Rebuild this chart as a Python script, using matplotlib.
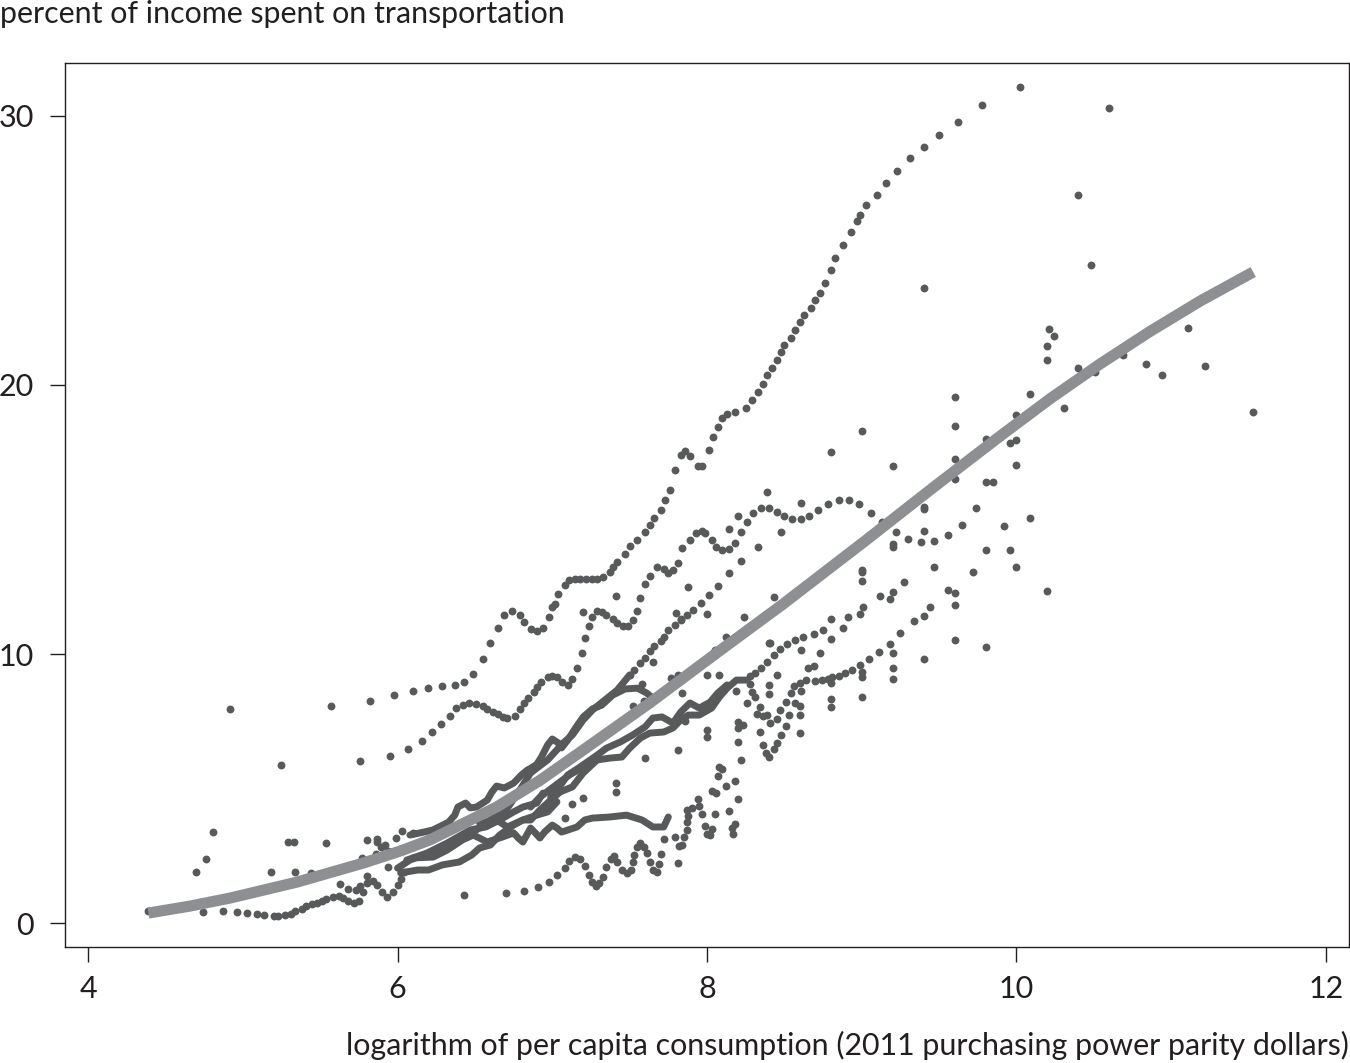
import matplotlib
matplotlib.use('Agg')
import matplotlib.pyplot as plt

# countries: dense ones are drawn joined up
top_x = [5.57, 5.82, 5.98, 6.10, 6.20, 6.29, 6.37, 6.43, 6.49, 6.55, 6.60, 6.65, 6.69, 6.74, 6.79, 6.82, 6.86, 6.90, 6.94, 6.98, 7.00, 7.02, 7.04, 7.08, 7.11, 7.15, 7.18, 7.22, 7.26, 7.29, 7.33, 7.37, 7.39, 7.42, 7.47, 7.50, 7.55, 7.60, 7.63, 7.66, 7.70, 7.73, 7.76, 7.79, 7.83, 7.86, 7.89, 7.94, 7.97, 8.01, 8.04, 8.07, 8.10, 8.13, 8.18, 8.25, 8.29, 8.33, 8.36, 8.39, 8.42, 8.45, 8.48, 8.50, 8.54, 8.57, 8.60, 8.63, 8.67, 8.70, 8.73, 8.76, 8.80, 8.83, 8.88, 8.93, 8.97, 8.99, 9.03, 9.10, 9.16, 9.23, 9.31, 9.40, 9.50, 9.62, 9.78, 10.02]
top_y = [8.07, 8.25, 8.48, 8.62, 8.74, 8.81, 8.85, 8.96, 9.26, 9.81, 10.41, 10.97, 11.45, 11.60, 11.45, 11.19, 10.93, 10.86, 10.97, 11.38, 11.75, 11.86, 12.23, 12.57, 12.75, 12.79, 12.79, 12.79, 12.79, 12.79, 12.86, 13.05, 13.23, 13.42, 13.72, 14.01, 14.24, 14.54, 14.80, 15.06, 15.35, 15.72, 16.10, 16.84, 17.40, 17.55, 17.36, 16.99, 16.99, 17.58, 18.07, 18.44, 18.77, 18.92, 19.00, 19.14, 19.44, 19.74, 20.04, 20.37, 20.63, 20.93, 21.23, 21.49, 21.75, 22.04, 22.34, 22.60, 22.86, 23.16, 23.42, 23.79, 24.27, 24.72, 25.20, 25.69, 26.10, 26.32, 26.69, 27.06, 27.51, 27.96, 28.44, 28.85, 29.29, 29.78, 30.41, 31.08]

second_x = [5.76, 5.95, 6.07, 6.16, 6.22, 6.28, 6.34, 6.38, 6.42, 6.46, 6.51, 6.55, 6.58, 6.62, 6.65, 6.68, 6.71, 6.76, 6.79, 6.82, 6.84, 6.88, 6.90, 6.93, 6.97, 7.00, 7.03, 7.06, 7.10, 7.13, 7.16, 7.19, 7.21, 7.24, 7.26, 7.29, 7.32, 7.35, 7.39, 7.42, 7.46, 7.49, 7.52, 7.55, 7.57, 7.60, 7.63, 7.68, 7.72, 7.75, 7.78, 7.81, 7.84, 7.89, 7.93, 7.97, 7.99, 8.03, 8.06, 8.10, 8.14, 8.18, 8.22, 8.26, 8.30, 8.35, 8.40, 8.45, 8.50, 8.55, 8.61, 8.66, 8.72, 8.78, 8.85, 8.92, 8.98, 9.06, 9.13, 9.22]
second_y = [6.02, 6.21, 6.47, 6.77, 7.10, 7.40, 7.70, 7.99, 8.10, 8.18, 8.14, 8.07, 7.96, 7.84, 7.77, 7.66, 7.62, 7.70, 7.96, 8.18, 8.36, 8.59, 8.77, 8.96, 9.14, 9.18, 9.14, 8.96, 8.85, 9.07, 9.48, 10.04, 10.59, 11.04, 11.38, 11.60, 11.56, 11.45, 11.30, 11.15, 11.04, 11.04, 11.26, 11.60, 12.08, 12.60, 12.90, 13.23, 13.16, 13.01, 13.12, 13.38, 13.94, 14.24, 14.50, 14.57, 14.50, 14.24, 13.98, 13.87, 13.90, 14.13, 14.54, 14.91, 15.24, 15.43, 15.43, 15.28, 15.13, 15.02, 15.02, 15.13, 15.35, 15.58, 15.72, 15.72, 15.58, 15.24, 14.91, 14.54]

third_x = [7.50, 7.53, 7.57, 7.60, 7.63, 7.66, 7.70, 7.72, 7.75, 7.79, 7.83, 7.87, 7.91, 7.96, 8.01, 8.07, 8.14, 8.22, 8.33, 8.48]
third_y = [9.22, 9.41, 9.67, 9.85, 10.11, 10.30, 10.48, 10.63, 10.89, 11.08, 11.30, 11.45, 11.64, 11.90, 12.19, 12.53, 13.01, 13.46, 13.98, 14.54]

low_x = [6.43, 6.70, 6.82, 6.91, 6.98, 7.03, 7.08, 7.11, 7.15, 7.18, 7.21, 7.24, 7.26, 7.28, 7.30, 7.33, 7.35, 7.38, 7.40, 7.42, 7.45, 7.48, 7.51, 7.52, 7.53, 7.55, 7.57, 7.59, 7.61, 7.63, 7.65, 7.68, 7.69, 7.70, 7.72, 7.79, 7.82, 7.81, 7.84, 7.85, 7.87, 7.87, 7.88, 7.87, 7.90, 7.94, 7.95, 7.97, 7.99, 8.00, 8.03, 8.02, 8.05, 8.03, 8.06, 8.07, 8.10, 8.12, 8.18, 8.20, 8.14, 8.18, 8.16, 8.17, 8.08, 8.22]
low_y = [1.04, 1.12, 1.19, 1.34, 1.52, 1.78, 2.04, 2.30, 2.45, 2.38, 2.12, 1.78, 1.52, 1.38, 1.49, 1.71, 2.08, 2.38, 2.49, 2.27, 1.97, 1.86, 1.97, 2.27, 2.53, 2.82, 2.97, 2.82, 2.60, 2.27, 1.97, 1.90, 2.19, 2.56, 3.12, 3.20, 2.86, 2.23, 2.90, 3.20, 3.46, 3.75, 3.98, 4.20, 4.27, 4.61, 4.35, 4.05, 3.61, 3.31, 3.49, 3.27, 4.05, 4.91, 4.83, 5.46, 5.72, 5.09, 5.28, 4.61, 4.16, 3.68, 3.53, 3.31, 5.80, 6.06]

bottom_x = [4.39, 4.74, 4.87, 4.96, 5.03, 5.09, 5.14, 5.20, 5.23, 5.27, 5.31, 5.34, 5.38, 5.41, 5.45, 5.48, 5.51, 5.54, 5.58, 5.62, 5.65, 5.68, 5.72, 5.75, 5.78, 5.80, 5.84, 5.87, 5.90, 5.93, 5.97, 6.00, 6.02, 6.04]
bottom_y = [0.45, 0.41, 0.45, 0.41, 0.37, 0.33, 0.30, 0.26, 0.26, 0.30, 0.33, 0.45, 0.52, 0.63, 0.71, 0.74, 0.82, 0.89, 0.97, 1.00, 0.93, 0.82, 0.74, 0.82, 1.15, 1.49, 1.56, 1.41, 1.15, 0.97, 1.15, 1.41, 1.63, 1.90]

upper_band_x = [6.08, 6.17, 6.23, 6.33, 6.37, 6.39, 6.44, 6.47, 6.51, 6.58, 6.61, 6.64, 6.69, 6.75, 6.80, 6.84, 6.86, 6.90, 6.93, 6.97, 7.00, 7.04, 7.06, 7.10, 7.15, 7.20, 7.26, 7.32, 7.39, 7.47, 7.55, 7.61, 7.65]
upper_band_y = [3.27, 3.38, 3.46, 3.75, 4.01, 4.31, 4.46, 4.28, 4.31, 4.57, 4.87, 5.09, 5.02, 5.20, 5.50, 5.69, 5.75, 5.90, 6.17, 6.62, 6.84, 6.69, 6.51, 6.80, 7.25, 7.66, 7.96, 8.10, 8.47, 8.70, 8.73, 8.55, 8.36]

rise_band_x = [6.00, 6.08, 6.17, 6.26, 6.34, 6.42, 6.51, 6.60, 6.71, 6.79, 6.86, 6.97, 7.07, 7.13, 7.20, 7.26, 7.34, 7.42, 7.50]
rise_band_y = [2.04, 2.34, 2.53, 2.71, 2.97, 3.20, 3.46, 3.83, 4.27, 4.94, 5.58, 6.06, 6.69, 6.99, 7.55, 7.92, 8.29, 8.66, 9.22]

band_f_x = [6.02, 6.13, 6.20, 6.29, 6.40, 6.48, 6.53, 6.60, 6.66, 6.75, 6.81, 6.86, 6.92, 6.99, 7.05, 7.13, 7.20, 7.29, 7.37, 7.45, 7.50, 7.57, 7.63, 7.72, 7.78, 7.83, 7.88, 7.95, 8.03, 8.08, 8.13, 8.19, 8.26]
band_f_y = [1.86, 1.97, 1.97, 2.16, 2.27, 2.53, 2.79, 2.90, 3.27, 3.64, 3.83, 3.83, 4.20, 4.57, 4.87, 5.06, 5.58, 6.06, 6.13, 6.17, 6.50, 6.88, 7.06, 7.10, 7.25, 7.55, 7.73, 7.73, 7.99, 8.40, 8.73, 9.03, 9.03]

band_g_x = [6.10, 6.23, 6.32, 6.42, 6.49, 6.58, 6.68, 6.75, 6.78, 6.81, 6.86, 6.89, 6.92, 6.95, 7.00, 7.03, 7.06, 7.16, 7.21, 7.26, 7.37, 7.48, 7.58, 7.65, 7.72, 7.75]
band_g_y = [2.42, 2.45, 2.71, 3.09, 3.27, 3.01, 3.20, 3.35, 3.16, 3.01, 3.53, 3.35, 3.16, 3.38, 3.64, 3.53, 3.38, 3.57, 3.83, 3.90, 3.94, 4.01, 3.83, 3.57, 3.57, 3.94]

band_h_x = [6.53, 6.64, 6.71, 6.81, 6.90, 6.97, 7.03, 6.99, 7.04, 7.10, 7.18, 7.29, 7.35, 7.44, 7.52, 7.60, 7.65, 7.71, 7.78, 7.83, 7.89, 7.95, 8.02, 8.07, 8.13]
band_h_y = [3.72, 3.83, 3.57, 3.83, 4.01, 4.13, 4.50, 4.68, 5.02, 5.50, 5.80, 6.24, 6.50, 6.73, 6.99, 7.29, 7.62, 7.66, 7.43, 7.84, 8.18, 7.99, 8.21, 8.55, 8.85]

band_i_x = [6.06, 6.19, 6.32, 6.47, 6.57, 6.66, 6.75, 6.81, 6.90, 6.94]
band_i_y = [2.34, 2.60, 2.97, 3.46, 3.57, 3.83, 4.13, 4.31, 4.46, 4.83]

band_k_x = [6.86, 6.92, 7.04, 7.11, 7.20, 7.26]
band_k_y = [4.31, 4.68, 5.20, 5.50, 5.80, 6.06]

# everything that stays as loose dots
mid_x = [7.41, 7.20, 7.88, 7.80, 7.83, 8.00, 8.24, 8.12, 8.43, 8.41, 8.05, 7.65, 7.77, 7.81, 8.00, 8.08, 7.58, 7.84, 7.52, 7.59, 7.86, 8.00, 8.00, 7.81, 7.60, 7.41, 7.41, 7.20, 7.13, 7.08]
mid_y = [12.16, 11.56, 12.49, 11.52, 11.26, 11.49, 11.37, 10.63, 12.12, 10.41, 10.15, 9.70, 9.11, 9.22, 9.22, 9.22, 8.88, 8.55, 8.07, 8.25, 7.51, 7.17, 6.91, 6.43, 6.13, 5.20, 4.87, 4.65, 4.42, 3.90]

cluster_x = [8.28, 8.29, 8.31, 8.26, 8.19, 8.34, 8.32, 8.36, 8.39, 8.41, 8.45, 8.51, 8.53, 8.47, 8.51, 8.57, 8.60, 8.60, 8.60, 8.48, 8.45, 8.43, 8.40, 8.38, 8.36, 8.34, 8.20, 8.23, 8.20, 8.20, 8.40, 8.40, 8.45]
cluster_y = [8.88, 8.59, 8.40, 8.18, 8.62, 8.03, 7.77, 7.69, 7.73, 7.43, 7.58, 7.32, 7.73, 7.92, 8.21, 8.18, 8.07, 7.73, 7.06, 6.99, 6.69, 6.47, 6.17, 6.32, 6.62, 7.10, 7.47, 7.36, 7.25, 6.73, 8.85, 8.51, 9.22]

upper_tail_x = [8.28, 8.31, 8.35, 8.39, 8.43, 8.47, 8.52, 8.57, 8.62, 8.69, 8.75, 8.80, 8.88, 8.91, 8.99, 9.01, 9.12, 9.18, 9.20, 9.27]
upper_tail_y = [9.18, 9.29, 9.48, 9.70, 9.96, 10.18, 10.37, 10.52, 10.63, 10.74, 10.89, 11.30, 10.97, 11.37, 11.49, 11.75, 12.15, 12.04, 12.30, 12.67]

lower_tail_x = [8.54, 8.56, 8.60, 8.64, 8.70, 8.74, 8.78, 8.81, 8.85, 8.89, 8.94, 8.99, 9.05, 9.11, 9.18, 9.25, 9.34, 9.40, 9.44, 9.56, 9.60, 9.60]
lower_tail_y = [8.55, 8.81, 8.92, 9.03, 8.99, 9.03, 9.07, 9.14, 9.18, 9.29, 9.40, 9.59, 9.81, 10.07, 10.37, 10.78, 11.23, 11.41, 11.75, 12.38, 12.27, 11.82]

right_x = [8.80, 9.00, 9.60, 10.00, 10.31, 9.20, 9.60, 9.80, 9.96, 10.00, 10.00, 9.80, 9.85, 9.60, 9.74, 10.09, 9.92, 9.65, 9.56, 9.47, 9.40, 9.40, 9.40, 9.38, 9.30, 9.20, 9.20, 9.47, 9.80, 9.96, 10.00, 9.72, 10.20, 9.00, 9.00, 9.00, 9.60, 9.80, 9.40, 9.20, 9.20, 9.20, 9.00, 9.00, 9.00, 8.80, 8.80, 8.80, 8.80, 8.73, 8.61, 8.65, 8.69, 8.40, 8.61, 8.61, 8.39, 8.20, 8.14, 9.60, 9.40, 11.53, 11.22, 10.94, 10.84, 10.69, 11.11, 10.60, 10.40, 10.48, 10.40, 10.51, 10.21, 10.24, 10.20, 10.20, 10.09]
right_y = [17.51, 18.29, 18.47, 18.88, 19.14, 16.99, 17.25, 17.99, 17.84, 17.95, 17.02, 16.39, 16.39, 16.50, 15.43, 15.05, 14.76, 14.79, 14.42, 14.20, 14.57, 15.46, 15.39, 14.16, 14.27, 14.09, 13.98, 13.23, 13.86, 13.86, 13.23, 13.05, 12.34, 13.12, 13.05, 12.71, 10.52, 10.26, 9.81, 10.04, 9.48, 9.07, 8.40, 9.33, 9.14, 8.33, 8.03, 8.92, 10.56, 10.04, 10.15, 9.48, 9.55, 10.41, 8.62, 15.61, 16.02, 15.13, 14.65, 19.55, 23.60, 18.99, 20.70, 20.37, 20.78, 21.11, 22.12, 30.29, 27.06, 24.46, 20.63, 20.48, 22.08, 21.82, 21.45, 20.93, 19.66]

left_x = [4.92, 5.25, 4.81, 4.76, 4.70, 5.29, 5.33, 5.54, 5.18, 5.34, 5.44, 5.80, 5.87, 5.87, 5.92, 5.89, 5.77, 5.86, 5.94, 5.99, 5.94, 5.80, 5.63, 5.68, 5.73, 5.76, 6.03, 6.10]
left_y = [7.95, 5.87, 3.38, 2.38, 1.90, 3.01, 3.01, 2.97, 1.90, 1.90, 1.86, 3.09, 3.12, 3.01, 2.90, 2.82, 2.42, 2.56, 2.68, 3.16, 2.08, 1.75, 1.45, 1.26, 1.23, 1.38, 3.42, 3.35]

fit_x = [4.39, 4.66, 4.92, 5.35, 5.78, 6.02, 6.21, 6.64, 6.92, 7.20, 7.63, 8.07, 8.49, 9.03, 9.46, 9.89, 10.22, 10.54, 10.86, 11.19, 11.53]
fit_y = [0.37, 0.63, 0.93, 1.52, 2.23, 2.68, 3.09, 4.31, 5.30, 6.43, 8.18, 10.07, 11.85, 14.24, 16.18, 18.08, 19.50, 20.78, 21.98, 23.13, 24.20]

dot_series = [(top_x, top_y), (second_x, second_y), (third_x, third_y), (low_x, low_y),
              (bottom_x, bottom_y), (mid_x, mid_y), (cluster_x, cluster_y),
              (upper_tail_x, upper_tail_y), (lower_tail_x, lower_tail_y),
              (right_x, right_y), (left_x, left_y)]
band_series = [(upper_band_x, upper_band_y), (rise_band_x, rise_band_y), (band_f_x, band_f_y),
               (band_g_x, band_g_y), (band_h_x, band_h_y), (band_i_x, band_i_y), (band_k_x, band_k_y)]

dot_color = '#58595b'
fit_color = '#8e8f92'
text_color = '#231f20'
plt.rcParams['font.family'] = ['Lato', 'DejaVu Sans']

fig = plt.figure(figsize=(13.5, 10.63), dpi=100)
ax = fig.add_axes([65 / 1350, 1 - 947 / 1063, (1349 - 65) / 1350, (947 - 63) / 1063])

for xs, ys in dot_series:
    ax.scatter(xs, ys, s=32, color=dot_color, linewidths=0, zorder=2)
for xs, ys in band_series:
    ax.plot(xs, ys, color=dot_color, lw=5, solid_capstyle='round', solid_joinstyle='round', zorder=2)
ax.plot(fit_x, fit_y, color=fit_color, lw=8, solid_capstyle='butt', zorder=3)

ax.set_xlim(3.851, 12.149)
ax.set_ylim(-0.892, 31.97)
ax.set_xticks([4, 6, 8, 10, 12])
ax.set_yticks([0, 10, 20, 30])
ax.tick_params(axis='both', length=10.5, width=1, color=text_color, labelsize=22, labelcolor=text_color)
ax.tick_params(axis='x', pad=10)
ax.tick_params(axis='y', pad=12)
for spine in ax.spines.values():
    spine.set_linewidth(1)
    spine.set_color(text_color)

fig.text(0, 1 - 14 / 1063, 'percent of income spent on transportation', fontsize=21.9, color=text_color,
         ha='left', va='center')
fig.text(1349 / 1350, 1 - 1045 / 1063, 'logarithm of per capita consumption (2011 purchasing power parity dollars)',
         fontsize=21.9, color=text_color, ha='right', va='center')

fig.savefig('out.png', dpi=100)
